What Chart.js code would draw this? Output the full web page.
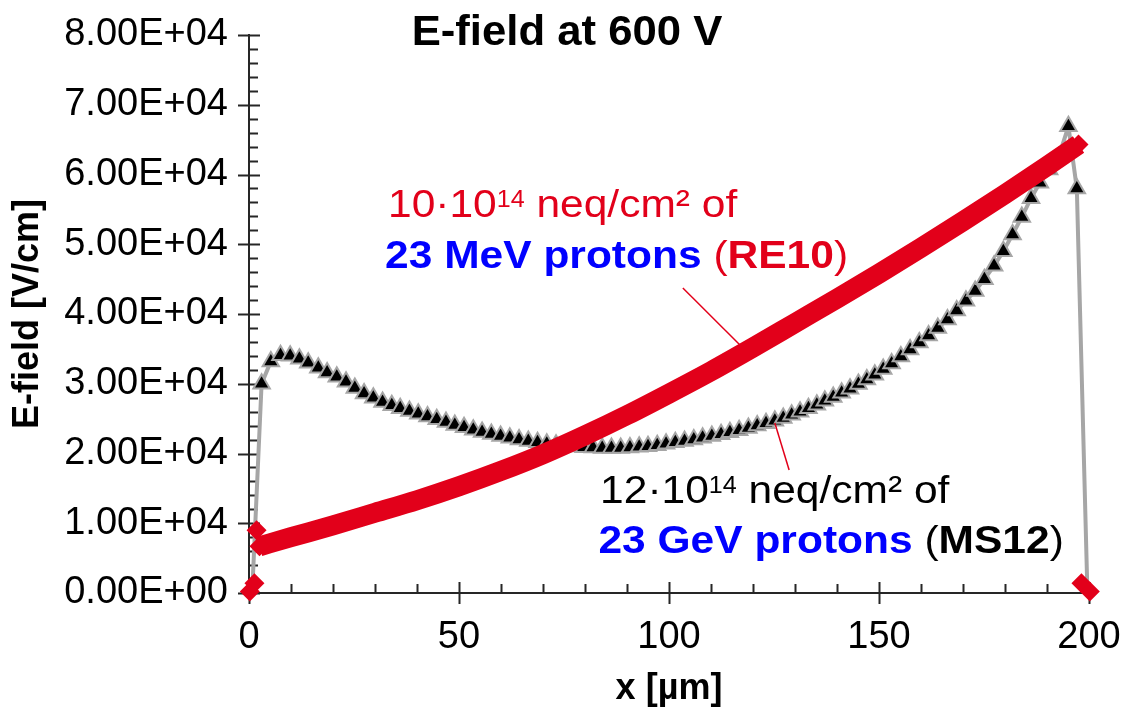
<!DOCTYPE html>
<html>
<head>
<meta charset="utf-8">
<script src="https://cdn.jsdelivr.net/npm/chart.js@4.4.1/dist/chart.umd.min.js"></script>
<style>
html,body{margin:0;padding:0;background:#fff;}
</style>
</head>
<body>
<canvas id="myChart" width="1122" height="707"></canvas>
<script>
// MS12 (23 GeV protons) - black triangles on grey line
var ms12X=[0.8,3.0,5.2,7.5,9.8,12.0,14.1,16.5,18.6,20.9,23.1,25.2,27.4,29.6,31.8,34.0,36.0,38.2,40.3,42.5,44.7,46.9,49.0,
    51.2,53.4,55.5,57.7,59.9,62.1,64.3,66.5,68.7,70.9,73.1,75.3,77.5,79.7,81.9,84.1,86.3,88.5,90.7,92.9,95.0,97.2,99.3,
    101.5,103.7,105.9,108.0,110.2,112.4,114.5,116.7,118.9,121.0,123.1,125.2,127.2,129.2,131.2,133.2,135.2,137.1,139.1,
    141.1,143.1,145.1,147.1,149.0,151.0,153.0,155.2,157.4,159.6,161.8,164.0,166.3,168.5,170.7,172.9,175.1,177.4,179.6,
    181.8,184.0,186.2,188.3,190.5,192.7,195.1,197.1,199.6];
var ms12Y=[600,30000,33200,34100,34000,33600,33000,32300,31600,31000,30300,29400,28600,28000,27400,26900,26500,26100,25700,25300,24900,24500,24100,
    23750,23400,23100,22800,22500,22250,22000,21800,21600,21400,21250,21100,21000,20900,20850,20800,20780,20800,20850,20950,21050,21200,21400,
    21600,21800,22000,22250,22500,22750,23050,23350,23650,24000,24350,24700,25100,25550,26000,26500,27000,27550,28100,
    28700,29300,29950,30600,31300,32100,32900,33900,34900,35900,36900,38000,39200,40500,41900,43300,45000,46900,49000,
    51400,53900,56600,58800,60700,62400,66900,58000,600];

// RE10 (23 MeV protons) - red diamond band
var re10X=[2.5,10,20,30,40,50,60,70,80,90,100,110,120,130,140,150,160,170,180,190,197.5];
var re10Y=[6700,8000,9700,11500,13300,15300,17500,19900,22600,25500,28600,31800,35200,38700,42200,45800,49500,53300,57200,61200,64300];

// RE10 loose points at both contacts
var re10EndX=[0.2,1.3,1.8,198.2,200.2];
var re10EndY=[200,1400,9000,1400,200];

var red="#e2001a";
var blue="#0000ff";
var FONT='"Liberation Sans", Arial, sans-serif';

function toPts(xs,ys){
    var out=[];
    for(var i=0;i<xs.length;i++){ out.push({x:xs[i],y:ys[i]}); }
    return out;
}

function sci(v){
    if(v===0) return "0.00E+00";
    var e=Math.floor(Math.log10(v)+1e-9);
    var m=v/Math.pow(10,e);
    return m.toFixed(2)+"E"+(e<0?"-":"+")+String(Math.abs(e)).padStart(2,"0");
}

// annotation texts, anchored in data coordinates (baseline, left)
var notes=[
    {x:33.1,y:53950,parts:[["10·10","r",red],["14","s",red],[" neq/cm² of","r",red]]},
    {x:32.4,y:46550,parts:[["23 MeV protons","b",blue],[" (","r",red],["RE10","b",red],[")","r",red]]},
    {x:83.6,y:12860,parts:[["12·10","r","#000"],["14","s","#000"],[" neq/cm² of","r","#000"]]},
    {x:83.2,y:5690,parts:[["23 GeV protons","b",blue],[" (","r","#000"],["MS12","b","#000"],[")","r","#000"]]}
];
var callouts=[
    [103.3,43730,116.9,35560],
    [125.2,24370,128.6,17630]
];

function drawParts(ctx,x,y,parts,sx){
    ctx.save();
    ctx.translate(x,y);
    ctx.scale(sx,1);
    ctx.textBaseline="alphabetic";
    ctx.textAlign="left";
    var cx=0;
    parts.forEach(function(p){
        var dy=0;
        if(p[1]==="r") ctx.font="39px "+FONT;
        else if(p[1]==="b") ctx.font="bold 39px "+FONT;
        else { ctx.font="23px "+FONT; dy=-10; }
        ctx.fillStyle=p[2];
        ctx.fillText(p[0],cx,dy);
        cx+=ctx.measureText(p[0]).width;
    });
    ctx.restore();
}

var axisTicks={
    id:"axisTicks",
    beforeDatasetsDraw:function(chart){
        var ctx=chart.ctx, xs=chart.scales.x, ys=chart.scales.y;
        ctx.save();
        ctx.strokeStyle="#262626";
        ctx.lineWidth=2;
        ctx.beginPath();
        for(var v=0;v<=200;v+=10){
            var px=Math.round(xs.getPixelForValue(v))+0.5;
            if(v%50===0){ ctx.moveTo(px,ys.bottom-11); ctx.lineTo(px,ys.bottom+11); }
            else { ctx.moveTo(px,ys.bottom-9); ctx.lineTo(px,ys.bottom); }
        }
        for(var w=0;w<=80000;w+=2000){
            var py=Math.round(ys.getPixelForValue(w))+0.5;
            if(w%10000===0){ ctx.moveTo(xs.left-11,py); ctx.lineTo(xs.left+11,py); }
            else { ctx.moveTo(xs.left,py); ctx.lineTo(xs.left+9,py); }
        }
        ctx.stroke();
        ctx.restore();
    },
    afterDraw:function(chart){
        var ctx=chart.ctx, xs=chart.scales.x, ys=chart.scales.y;
        ctx.save();
        ctx.strokeStyle=red;
        ctx.lineWidth=1.5;
        callouts.forEach(function(c){
            ctx.beginPath();
            ctx.moveTo(xs.getPixelForValue(c[0]),ys.getPixelForValue(c[1]));
            ctx.lineTo(xs.getPixelForValue(c[2]),ys.getPixelForValue(c[3]));
            ctx.stroke();
        });
        notes.forEach(function(n){
            drawParts(ctx,xs.getPixelForValue(n.x),ys.getPixelForValue(n.y),n.parts,1.09);
        });
        // title
        ctx.font="bold 42px "+FONT;
        ctx.fillStyle="#000";
        ctx.textAlign="center";
        ctx.textBaseline="alphabetic";
        ctx.save();
        ctx.translate(567,45);
        ctx.scale(1.04,1);
        ctx.fillText("E-field at 600 V",0,0);
        ctx.restore();
        ctx.restore();
    }
};

var ctx=document.getElementById("myChart").getContext("2d");
var myChart=new Chart(ctx,{
    type:"scatter",
    data:{
        datasets:[
            {
                label:"RE10",
                data:toPts(re10X,re10Y),
                showLine:true,
                borderColor:red,
                backgroundColor:red,
                borderWidth:20,
                cubicInterpolationMode:"monotone",
                pointStyle:"rectRot",
                pointRadius:function(c){ return (c.dataIndex===0||c.dataIndex===re10X.length-1)?10:0; },
                pointBorderWidth:0,
                pointHoverRadius:0,
                clip:false,
                order:0
            },
            {
                label:"RE10 contacts",
                data:toPts(re10EndX,re10EndY),
                showLine:false,
                backgroundColor:red,
                pointStyle:"rectRot",
                pointRadius:10,
                pointBorderWidth:0,
                clip:false,
                order:1
            },
            {
                label:"MS12",
                data:toPts(ms12X,ms12Y),
                showLine:true,
                borderColor:"#a6a6a6",
                borderWidth:4,
                tension:0,
                pointStyle:"triangle",
                pointRadius:function(c){ return (c.dataIndex===0||c.dataIndex===ms12X.length-1)?0:9.5; },
                pointBackgroundColor:"#000",
                pointBorderColor:"#a6a6a6",
                pointBorderWidth:2,
                clip:false,
                order:2
            }
        ]
    },
    options:{
        responsive:false,
        animation:false,
        devicePixelRatio:1,
        layout:{padding:{left:0,right:33,top:35,bottom:0}},
        plugins:{legend:{display:false},tooltip:{enabled:false},title:{display:false}},
        events:[],
        scales:{
            x:{
                type:"linear",
                min:0,max:200,
                grid:{display:false,drawTicks:false},
                border:{display:true,color:"#262626",width:2},
                ticks:{stepSize:50,padding:22,maxRotation:0,color:"#000",font:{family:FONT,size:38}},
                title:{display:true,text:"x [µm]",color:"#000",font:{family:FONT,size:36,weight:"bold",lineHeight:1},padding:{top:0,bottom:0}},
                afterFit:function(s){ s.height=114; s.paddingLeft=0; s.paddingRight=0; }
            },
            y:{
                type:"linear",
                min:0,max:80000,
                grid:{display:false,drawTicks:false},
                border:{display:true,color:"#262626",width:2},
                ticks:{stepSize:10000,padding:21,color:"#000",font:{family:FONT,size:38},callback:function(v){ return sci(v); }},
                title:{display:true,text:"E-field [V/cm]",color:"#000",font:{family:FONT,size:36,weight:"bold",lineHeight:1.2},padding:{top:6,bottom:0}},
                afterFit:function(s){ s.width=249; s.paddingTop=0; s.paddingBottom=0; }
            }
        }
    },
    plugins:[axisTicks]
});
</script>
</body>
</html>
